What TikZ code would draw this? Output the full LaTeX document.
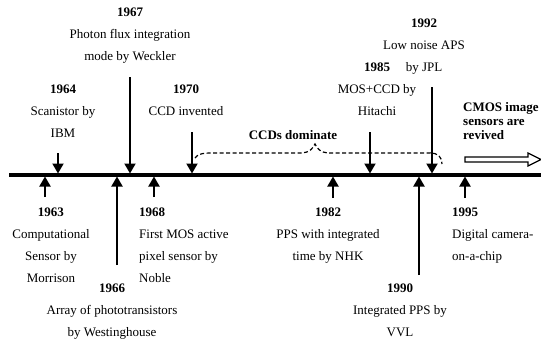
\documentclass[tikz,border=0pt]{standalone}
\usepackage{fontspec}
\setmainfont{Liberation Serif}
\usetikzlibrary{positioning, arrows.meta}

\begin{document}
\begin{tikzpicture}[
      x=1pt, y=-1pt,
      evt_lbl/.style={align=center, anchor=north, inner sep=0pt, font=\fontsize{13}{22}\selectfont},
      evt_lbl_left/.style={evt_lbl, align=left, anchor=north west},
      era_lbl/.style={align=left, anchor=north west, inner sep=0pt, font=\fontsize{13}{14}\selectfont\bfseries},
      edge_path/.style={-{Triangle[length=10pt, width=11pt]}, line width=2pt},
      time_axis/.style={line width=3.5pt},
      era_span/.style={dash pattern=on 4pt off 2.5pt, line width=1.2pt}
    ]
      \useasboundingbox (0,0) rectangle (541,343);

      % time axis
      \coordinate (axis_start) at (9,175);
      \coordinate (axis_end) at (541,175);
      \draw[time_axis] (axis_start) -- (axis_end);

      % events above the axis
      \node[evt_lbl] (E1964) at (63,84.6) {\textbf{1964}\\Scanistor by\\IBM};
      \node[evt_lbl] (E1967) at (130,7.6) {\textbf{1967}\\Photon flux integration\\mode by Weckler};
      \node[evt_lbl] (E1970) at (186,84.6) {\textbf{1970}\\CCD invented};
      \node[evt_lbl] (E1985) at (377,62.6) {\textbf{1985}\\MOS+CCD by\\Hitachi};
      \node[evt_lbl] (E1992) at (424,18.6) {\textbf{1992}\\Low noise APS\\by JPL};

      \coordinate (S1964) at (58,153);
      \coordinate (S1967) at (130,77);
      \coordinate (S1970) at (192,132);
      \coordinate (S1985) at (370,132);
      \coordinate (S1992) at (432,87);
      \coordinate (T1964) at (58,173.5);
      \coordinate (T1967) at (130,173.5);
      \coordinate (T1970) at (192,173.5);
      \coordinate (T1985) at (370,173.5);
      \coordinate (T1992) at (432,173.5);

      \draw[edge_path] (S1964) to (T1964);
      \draw[edge_path] (S1967) to (T1967);
      \draw[edge_path] (S1970) to (T1970);
      \draw[edge_path] (S1985) to (T1985);
      \draw[edge_path] (S1992) to (T1992);

      % events below the axis
      \node[evt_lbl] (E1963) at (51,207.6) {\textbf{1963}\\Computational\\Sensor by\\Morrison};
      \node[evt_lbl] (E1966) at (112,283.6) {\textbf{1966}\\Array of phototransistors\\by Westinghouse};
      \node[evt_lbl_left] (E1968) at (139,207.6) {\textbf{1968}\\First MOS active\\pixel sensor by\\Noble};
      \node[evt_lbl] (E1982) at (328,207.6) {\textbf{1982}\\PPS with integrated\\time by NHK};
      \node[evt_lbl] (E1990) at (400,283.6) {\textbf{1990}\\Integrated PPS by\\VVL};
      \node[evt_lbl_left] (E1995) at (452,207.6) {\textbf{1995}\\Digital camera-\\on-a-chip};

      \coordinate (S1963) at (45,197);
      \coordinate (S1966) at (117,265);
      \coordinate (S1968) at (154,197);
      \coordinate (S1982) at (333,198);
      \coordinate (S1990) at (419,275);
      \coordinate (S1995) at (465,198);
      \coordinate (T1963) at (45,176.5);
      \coordinate (T1966) at (117,176.5);
      \coordinate (T1968) at (154,176.5);
      \coordinate (T1982) at (333,176.5);
      \coordinate (T1990) at (419,176.5);
      \coordinate (T1995) at (465,176.5);

      \draw[edge_path] (S1963) to (T1963);
      \draw[edge_path] (S1966) to (T1966);
      \draw[edge_path] (S1968) to (T1968);
      \draw[edge_path] (S1982) to (T1982);
      \draw[edge_path] (S1990) to (T1990);
      \draw[edge_path] (S1995) to (T1995);

      % CCD era
      \node[font=\fontsize{13}{14}\selectfont\bfseries, inner sep=0pt] (ccd_era) at (293,135) {CCDs dominate};
      \coordinate (ccd_from) at (195,158);
      \coordinate (ccd_peak) at (315,144);
      \coordinate (ccd_to) at (442,164);
      \draw[era_span] (ccd_from) .. controls (198,153) and (205,153) .. (215,153) -- (300,153)
        .. controls (310,153) and (313,148) .. (ccd_peak)
        .. controls (317,148) and (320,153) .. (330,153) -- (430,153)
        .. controls (438,153) and (442,157) .. (ccd_to);

      % CMOS revival
      \node[era_lbl] (cmos_era) at (463,102) {CMOS image\\sensors are\\revived};
      \draw[line width=1.2pt, line join=miter] (465,157) -- (528,157) -- (528,153) -- (541,159.5)
        -- (528,166) -- (528,162) -- (465,162) -- cycle;
    \end{tikzpicture}
\end{document}
